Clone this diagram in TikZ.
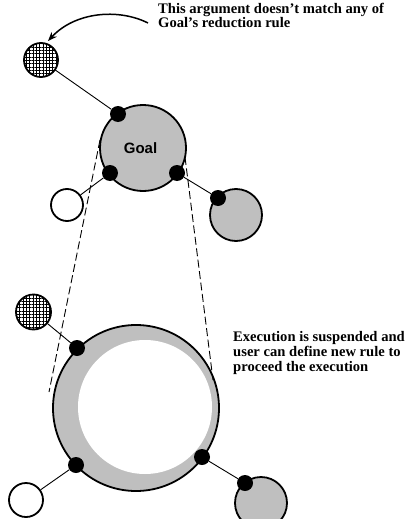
\documentclass[tikz,border=0pt]{standalone}
\usepackage{fontspec}
\setmainfont{Liberation Serif}
\newfontfamily\labelsans{Liberation Sans}
\usetikzlibrary{patterns.meta,arrows.meta}
\definecolor{ringgray}{RGB}{191,191,191}
\begin{document}
\begin{tikzpicture}[x=1pt,y=-1pt,
  ball/.style={circle,draw=black,line width=1.8pt,minimum size=#1,inner sep=0pt},
  hatched/.style={ball=#1,pattern={Hatch[distance=3.3pt,line width=0.7pt]}},
  grayball/.style={ball=#1,fill=ringgray},
  whiteball/.style={ball=#1,fill=white},
  port/.style={circle,fill=black,minimum size=16pt,inner sep=0pt},
  link/.style={line width=0.9pt},
  zoomline/.style={line width=0.9pt,dash pattern=on 8pt off 3.5pt},
  note/.style={align=left,inner sep=0pt,font=\bfseries\fontsize{14.6}{14.8}\selectfont},
]
\useasboundingbox (0,0) rectangle (408,519);

% upper goal and its arguments
\node[hatched=34pt] (argA) at (41,60) {};
\node[grayball=86pt] (goal) at (143,148) {};
\node[font=\labelsans\bfseries\fontsize{15}{16}\selectfont,inner sep=0pt] (goalname) at (140.5,148) {Goal};
\node[whiteball=32pt] (argB) at (67,205) {};
\node[grayball=52pt] (argC) at (236,215) {};
\node[port] (gA) at (118,114) {};
\node[port] (gB) at (110,173) {};
\node[port] (gC) at (177,173) {};
\node[port] (cA) at (218,198) {};

% lower, suspended goal
\node[grayball=166pt] (big) at (136,408) {};
\node[circle,fill=white,minimum size=134pt,inner sep=0pt] (hole) at (145,407) {};
\node[hatched=35pt] (argD) at (33.5,312) {};
\node[whiteball=34pt] (argE) at (26,500) {};
\node[grayball=52pt] (argF) at (261,503) {};
\node[port] (bA) at (77,348) {};
\node[port] (bB) at (76,465) {};
\node[port] (bC) at (202,457) {};
\node[port] (fA) at (245,483) {};

% connectors
\draw[link] (argA) -- (gA);
\draw[link] (argB) -- (gB);
\draw[link] (gC) -- (cA);
\draw[link] (argD) -- (bA);
\draw[link] (argE) -- (bB);
\draw[link] (bC) -- (fA);

% zoom guides
\coordinate (zl1) at (100,140);
\coordinate (zl2) at (49,392);
\coordinate (zr1) at (185,157);
\coordinate (zr2) at (213,380);
\draw[zoomline] (zl1) -- (zl2);
\draw[zoomline] (zr1) -- (zr2);

% annotations
\node[note,anchor=base west] (noteA) at (158,28)
  {This argument doesn’t match any of\\Goal’s reduction rule};
\node[note,anchor=base west] (noteB) at (233,371)
  {Execution is suspended and\\user can define new rule to\\proceed the execution};

\coordinate (arrS) at (148,23);
\coordinate (arrE) at (48,41);
\draw[line width=1.5pt,-{Stealth[length=9pt,width=7pt]}]
  (arrS) .. controls (118,8) and (75,12) .. (arrE);
\end{tikzpicture}
\end{document}
